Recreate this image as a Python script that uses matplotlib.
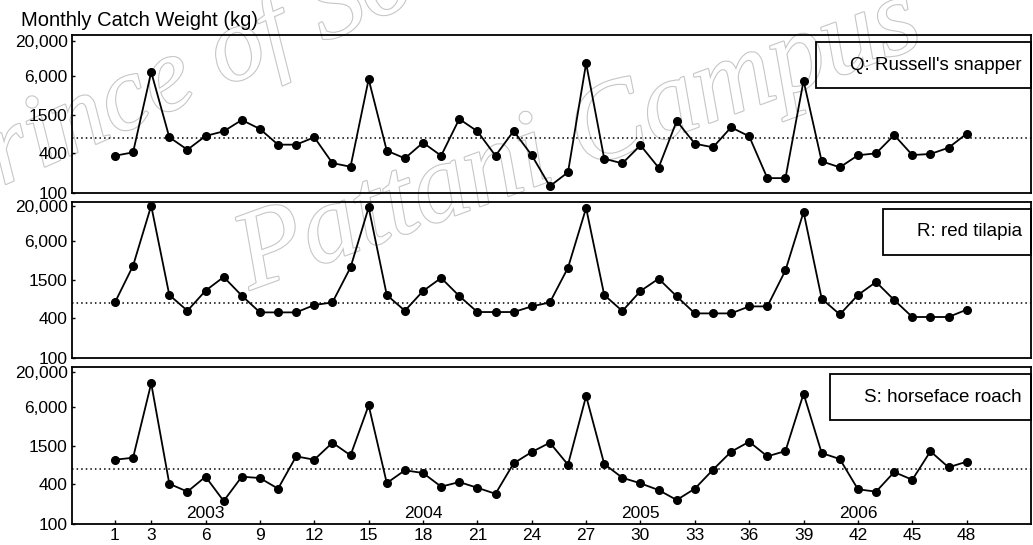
import matplotlib
matplotlib.use("Agg")
import matplotlib.pyplot as plt
import matplotlib.patheffects as pe
from matplotlib.patches import Rectangle
from matplotlib.transforms import IdentityTransform, blended_transform_factory

# Monthly catch weight (kg), months 1-48 (2003-2006)
months = list(range(1, 49))

russells_snapper = [367, 413, 6815, 699, 453, 731, 861, 1277, 934, 540,
                    540, 699, 284, 250, 5285, 438, 335, 579, 367, 1322,
                    861, 367, 870, 373, 127, 206, 9240, 331, 281, 529,
                    242, 1233, 559, 492, 989, 722, 168, 168, 5030, 302,
                    245, 373, 399, 756, 376, 390, 485, 792]

red_tilapia = [695, 2500, 20290, 900, 520, 1046, 1688, 880, 491, 491,
               491, 635, 695, 2358, 19090, 900, 520, 1034, 1632, 870,
               497, 497, 497, 605, 695, 2330, 18720, 900, 515, 1034,
               1590, 859, 474, 474, 474, 605, 605, 2126, 16300, 791,
               457, 900, 1418, 756, 418, 418, 418, 540]

horseface_roach = [942, 1009, 13520, 407, 309, 521, 223, 521, 497, 343,
                   1059, 942, 1705, 1098, 6283, 417, 651, 593, 368, 432,
                   354, 287, 830, 1232, 1705, 791, 8678, 811, 502, 413,
                   327, 231, 343, 664, 1244, 1764, 1059, 1274, 9415, 1189,
                   964, 336, 309, 612, 468, 1262, 723, 879]

series = [russells_snapper, red_tilapia, horseface_roach]
series_labels = ["Q: Russell's snapper", "R: red tilapia", "S: horseface roach"]
reference_level = 690

y_ticks = [100, 400, 1500, 6000, 20000]
y_tick_labels = ["100", "400", "1500", "6,000", "20,000"]
x_ticks = [1, 3, 6, 9, 12, 15, 18, 21, 24, 27, 30, 33, 36, 39, 42, 45, 48]
years = ["2003", "2004", "2005", "2006"]
year_centers = [6, 18, 30, 42]

plt.rcParams["font.family"] = ["Liberation Sans", "DejaVu Sans"]

W, H = 1033, 545
PX_PER_DECADE = 66
fig = plt.figure(figsize=(W / 100, H / 100), dpi=100)
fig.patch.set_facecolor("white")


def frac(x0, y0, x1, y1):
    # pixel box (top-left origin) -> figure fraction rect
    return [x0 / W, 1 - y1 / H, (x1 - x0) / W, (y1 - y0) / H]


panel_boxes = [(72, 35, 1031, 193), (72, 202, 1031, 358), (72, 367, 1031, 524)]

# faint outlined watermark behind the panels
wm_style = dict(fontfamily="Liberation Serif", fontstyle="italic", color="white",
                zorder=-5, ha="left", va="baseline",
                path_effects=[pe.Stroke(linewidth=1.6, foreground="#c6c6c6"), pe.Normal()])
fig.text(-57 / W, 1 - 212 / H, "Prince of Songkla University", fontsize=76,
         rotation=24, rotation_mode="anchor", **wm_style)
fig.text(250 / W, 1 - 290 / H, "Pattani Campus", fontsize=80,
         rotation=20, rotation_mode="anchor", **wm_style)

axes = []
for i, (vals, lab, box) in enumerate(zip(series, series_labels, panel_boxes)):
    ax = fig.add_axes(frac(*box))
    ax.set_facecolor("none")
    ax.set_yscale("log")
    height_px = box[3] - box[1]
    ax.set_ylim(100, 100 * 10 ** (height_px / PX_PER_DECADE))
    ax.set_xlim(-1.37, 51.55)
    ax.plot(months, vals, color="black", lw=1.3, marker="o", ms=5.5, zorder=3)
    ax.axhline(reference_level, color="black", lw=1.1, ls=(0, (1, 2)), zorder=2)

    ax.set_yticks(y_ticks)
    ax.set_yticklabels(y_tick_labels)
    ax.yaxis.set_minor_locator(matplotlib.ticker.NullLocator())
    ax.tick_params(axis="y", direction="in", length=2, width=1, pad=3,
                   labelsize=12.5, colors="black")
    ax.set_xticks(x_ticks)
    if i == 2:
        ax.tick_params(axis="x", direction="in", length=3, width=1, pad=3,
                       labelsize=12.5)
    else:
        ax.tick_params(axis="x", length=0, labelbottom=False)
    for s in ax.spines.values():
        s.set_linewidth(1.3)
        s.set_color("black")
    axes.append(ax)

# year labels in the lower panel
ax3 = axes[2]
tr = blended_transform_factory(ax3.transData, ax3.transAxes)
for yr, xc in zip(years, year_centers):
    ax3.text(xc, 0.064, yr, transform=tr, ha="center", va="center", fontsize=12.5)

fig.text(21 / W, 1 - 20 / H, "Monthly Catch Weight (kg)", fontsize=14.5,
         ha="left", va="center")

# species labels in framed boxes at the upper right of each panel
label_texts = []
for ax, lab, box in zip(axes, series_labels, panel_boxes):
    x1, y0 = box[2], box[1]
    t = fig.text((x1 - 9) / W, 1 - (y0 + 30) / H, lab, fontsize=13.5,
                 ha="right", va="center")
    label_texts.append((t, box))

fig.canvas.draw()
renderer = fig.canvas.get_renderer()
for t, box in label_texts:
    bb = t.get_window_extent(renderer)
    left = bb.x0 - 34
    right = box[2] / W * fig.bbox.width
    top = (1 - (box[1] + 7) / H) * fig.bbox.height
    rect = Rectangle((left, top - 46), right - left, 46, transform=IdentityTransform(),
                     fill=False, edgecolor="black", lw=1.3, zorder=10)
    fig.patches.append(rect)

fig.savefig("out.png", dpi=100, facecolor="white")
